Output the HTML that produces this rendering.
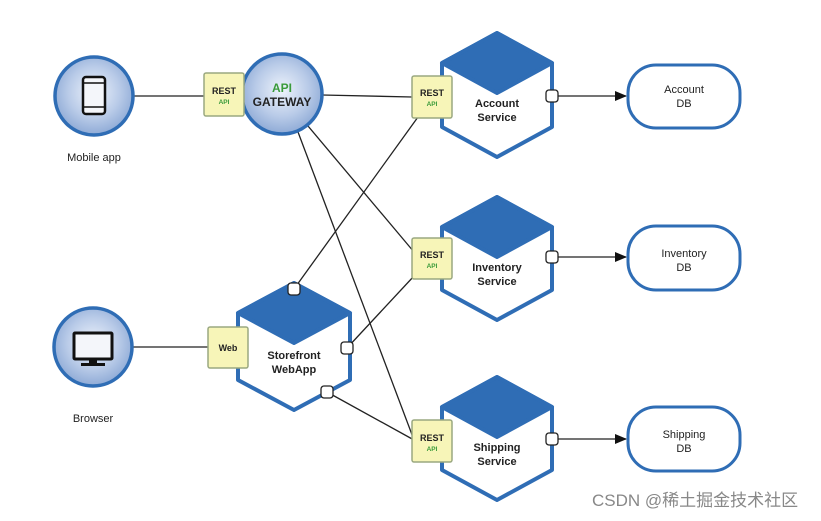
<!DOCTYPE html>
<html><head><meta charset="utf-8"><style>
html,body{margin:0;padding:0;background:#fff;}
svg{display:block;}
text{font-family:"Liberation Sans",sans-serif;}
</style></head><body>
<svg width="821" height="521" viewBox="0 0 821 521" xmlns="http://www.w3.org/2000/svg">
<defs>
<radialGradient id="g" cx="50%" cy="45%" r="55%">
<stop offset="0" stop-color="#eef3fb"/><stop offset="0.6" stop-color="#b9cbe8"/><stop offset="1" stop-color="#8eaad6"/>
</radialGradient>
<marker id="ar" markerWidth="12" markerHeight="10" refX="11" refY="5" orient="auto" markerUnits="userSpaceOnUse">
<path d="M0,0 L12,5 L0,10 z" fill="#111"/></marker>
</defs>
<g stroke="#222" stroke-width="1.3" fill="none">
<line x1="134" y1="96" x2="204" y2="96"/>
<line x1="322" y1="95" x2="412" y2="97"/>
<line x1="298" y1="132" x2="414" y2="440"/>
<line x1="308" y1="126" x2="414" y2="252"/>
<line x1="294" y1="289" x2="418" y2="117"/>
<line x1="347" y1="348" x2="414" y2="276"/>
<line x1="327" y1="392" x2="414" y2="440"/>
<line x1="133" y1="347" x2="208" y2="347"/>
<line x1="553" y1="96" x2="626" y2="96" marker-end="url(#ar)"/>
<line x1="553" y1="257" x2="626" y2="257" marker-end="url(#ar)"/>
<line x1="553" y1="439" x2="626" y2="439" marker-end="url(#ar)"/>
</g>
<g stroke="#2f6db5" stroke-width="3.5" fill="url(#g)">
<circle cx="94" cy="96" r="39"/>
<circle cx="93" cy="347" r="39"/>
<circle cx="282" cy="94" r="40"/>
</g>
<rect x="83" y="77" width="22" height="37" rx="3" fill="#f4f6fa" stroke="#111" stroke-width="2.5"/>
<line x1="84" y1="83" x2="104" y2="83" stroke="#111" stroke-width="1.5"/>
<line x1="84" y1="107" x2="104" y2="107" stroke="#111" stroke-width="1.5"/>
<rect x="74" y="333" width="38" height="26" rx="1" fill="#f4f6fa" stroke="#111" stroke-width="3"/>
<rect x="89" y="360" width="8" height="4" fill="#111"/>
<rect x="81" y="363" width="24" height="3" fill="#111"/>
<text x="94" y="161" font-size="11" text-anchor="middle" fill="#222">Mobile app</text>
<text x="93" y="422" font-size="11" text-anchor="middle" fill="#222">Browser</text>
<text x="282" y="92" font-size="12" font-weight="bold" text-anchor="middle" fill="#3a9b3a">API</text>
<text x="282" y="106" font-size="12" font-weight="bold" text-anchor="middle" fill="#222">GATEWAY</text>
<g stroke="#2f6db5" stroke-width="4" stroke-linejoin="round" fill="#fff">
<polygon points="497,33 552,63 552,127 497,157 442,127 442,63"/>
<polygon points="497,197 552,227 552,290 497,320 442,290 442,227"/>
<polygon points="497,377 552,407 552,470 497,500 442,470 442,407"/>
<polygon points="294,283 350,313 350,380 294,410 238,380 238,313"/>
</g>
<g fill="#2f6db5" stroke="#2f6db5" stroke-width="4" stroke-linejoin="round">
<polygon points="497,33 552,63 497,93 442,63"/>
<polygon points="497,197 552,227 497,257 442,227"/>
<polygon points="497,377 552,407 497,437 442,407"/>
<polygon points="294,283 350,313 294,343 238,313"/>
</g>
<g font-size="11" font-weight="bold" text-anchor="middle" fill="#222">
<text x="497" y="107">Account</text><text x="497" y="121">Service</text>
<text x="497" y="271">Inventory</text><text x="497" y="285">Service</text>
<text x="497" y="451">Shipping</text><text x="497" y="465">Service</text>
<text x="294" y="359">Storefront</text><text x="294" y="373">WebApp</text>
</g>
<g fill="#f7f5b8" stroke="#9aa880" stroke-width="1.5">
<rect x="204" y="73" width="40" height="43" rx="2"/>
<rect x="412" y="76" width="40" height="42" rx="2"/>
<rect x="412" y="238" width="40" height="41" rx="2"/>
<rect x="412" y="420" width="40" height="42" rx="2"/>
<rect x="208" y="327" width="40" height="41" rx="2"/>
</g>
<g font-size="9" font-weight="bold" text-anchor="middle" fill="#222">
<text x="224" y="94">REST</text><text x="432" y="96">REST</text>
<text x="432" y="258">REST</text><text x="432" y="441">REST</text>
<text x="228" y="351">Web</text>
</g>
<g font-size="6.5" font-weight="bold" text-anchor="middle" fill="#3a9b3a">
<text x="224" y="104">API</text><text x="432" y="106">API</text>
<text x="432" y="268">API</text><text x="432" y="451">API</text>
</g>
<g fill="#fff" stroke="#222" stroke-width="1.3">
<rect x="546" y="90" width="12" height="12" rx="3"/>
<rect x="546" y="251" width="12" height="12" rx="3"/>
<rect x="546" y="433" width="12" height="12" rx="3"/>
<rect x="288" y="283" width="12" height="12" rx="3"/>
<rect x="341" y="342" width="12" height="12" rx="3"/>
<rect x="321" y="386" width="12" height="12" rx="3"/>
</g>
<g fill="#fff" stroke="#2f6db5" stroke-width="3">
<rect x="628" y="65" width="112" height="63" rx="28"/>
<rect x="628" y="226" width="112" height="64" rx="28"/>
<rect x="628" y="407" width="112" height="64" rx="28"/>
</g>
<g font-size="11" text-anchor="middle" fill="#222">
<text x="684" y="93">Account</text><text x="684" y="107">DB</text>
<text x="684" y="257">Inventory</text><text x="684" y="271">DB</text>
<text x="684" y="438">Shipping</text><text x="684" y="452">DB</text>
</g>
<text x="592" y="506" font-size="17" fill="#888" font-family="Liberation Sans, Noto Sans CJK SC, sans-serif">CSDN @稀土掘金技术社区</text>
</svg>
</body></html>
